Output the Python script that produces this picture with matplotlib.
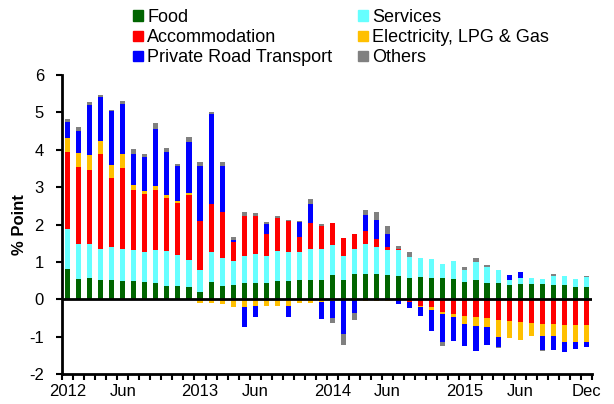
import numpy as np
import matplotlib.pyplot as plt
from matplotlib.patches import Patch

plt.rcParams['font.family'] = ['Liberation Sans', 'DejaVu Sans']
plt.rcParams['axes.unicode_minus'] = False

# monthly contributions, Jan 2012 .. Dec 2015 (% point)
food = [0.81, 0.55, 0.57, 0.52, 0.53, 0.49, 0.49, 0.46, 0.44, 0.36, 0.35, 0.32,
        0.21, 0.47, 0.36, 0.38, 0.43, 0.43, 0.44, 0.49, 0.49, 0.52, 0.52, 0.53,
        0.66, 0.52, 0.68, 0.68, 0.68, 0.65, 0.62, 0.58, 0.59, 0.57, 0.57, 0.54,
        0.46, 0.53, 0.44, 0.44, 0.38, 0.41, 0.40, 0.40, 0.38, 0.38, 0.34, 0.33]
services = [1.06, 0.93, 0.91, 0.84, 0.87, 0.85, 0.84, 0.82, 0.88, 0.93, 0.84, 0.73,
            0.59, 0.81, 0.75, 0.64, 0.74, 0.78, 0.73, 0.80, 0.77, 0.74, 0.82, 0.81,
            0.80, 0.64, 0.66, 0.80, 0.72, 0.67, 0.70, 0.56, 0.52, 0.50, 0.39, 0.48,
            0.34, 0.46, 0.43, 0.34, 0.14, 0.17, 0.17, 0.14, 0.24, 0.26, 0.22, 0.27]
accommodation = [2.06, 2.05, 1.99, 2.53, 1.84, 2.17, 1.60, 1.54, 1.61, 1.43, 1.40, 1.75,
                 1.29, 1.26, 1.22, 0.52, 1.07, 1.02, 0.57, 0.90, 0.84, 0.41, 0.71, 0.63,
                 0.58, 0.47, 0.40, 0.35, 0.21, 0.09, 0.04, -0.07, -0.18, -0.20, -0.33, -0.39,
                 -0.45, -0.47, -0.50, -0.55, -0.58, -0.60, -0.64, -0.66, -0.66, -0.69, -0.69, -0.69]
electricity = [0.38, 0.38, 0.40, 0.35, 0.35, 0.37, 0.12, 0.08, 0.11, 0.07, 0.04, 0.05,
               -0.09, -0.10, -0.13, -0.20, -0.20, -0.18, -0.18, -0.18, -0.18, -0.10, -0.09, -0.06,
               -0.03, 0.0, 0.0, -0.05, -0.05, -0.04, 0.0, 0.0, -0.03, -0.07, -0.06, -0.09,
               -0.21, -0.24, -0.23, -0.45, -0.46, -0.48, -0.33, -0.31, -0.31, -0.44, -0.44, -0.45]
transport = [0.44, 0.60, 1.33, 1.16, 1.44, 1.35, 0.83, 0.91, 1.52, 1.16, 0.94, 1.35,
             1.48, 2.41, 1.23, 0.05, -0.53, -0.30, 0.29, 0.0, -0.30, 0.40, 0.51, -0.45,
             -0.46, -0.93, -0.37, 0.42, 0.52, 0.34, -0.13, -0.15, -0.22, -0.58, -0.76, -0.63,
             -0.58, -0.67, -0.48, -0.27, 0.13, 0.15, 0.0, -0.37, -0.39, -0.28, -0.20, -0.13]
others = [0.06, 0.09, 0.07, 0.06, 0.03, 0.07, 0.13, 0.09, 0.15, 0.11, 0.04, 0.15,
          0.10, 0.07, 0.12, 0.08, 0.10, 0.07, 0.03, 0.04, 0.02, 0.02, 0.12, 0.04,
          -0.15, -0.29, -0.18, 0.13, 0.22, 0.22, 0.08, 0.12, 0.0, 0.0, -0.09, 0.0,
          0.06, 0.12, 0.06, -0.03, 0.0, 0.0, 0.0, -0.03, 0.06, 0.0, 0.0, 0.02]

labels = ['Food', 'Services', 'Accommodation', 'Electricity, LPG & Gas',
          'Private Road Transport', 'Others']
colors = ['#006400', '#66FFFF', '#FF0000', '#FFC000', '#0000FF', '#808080']

tick_pos = [0, 5, 12, 17, 24, 29, 36, 41, 47]
tick_labels = ['2012', 'Jun', '2013', 'Jun', '2014', 'Jun', '2015', 'Jun', 'Dec']

fig = plt.figure(figsize=(6.14, 4.04), dpi=100)
ax = fig.add_axes([0.101, 0.0735, 0.863, 0.741])

x = np.arange(len(food))
pos_base = np.zeros(len(x))
neg_base = np.zeros(len(x))
# positives stack up from 0, negatives stack down from 0
for vals, col in zip([food, services, accommodation, electricity, transport, others], colors):
    v = np.array(vals)
    p = np.where(v > 0, v, 0)
    n = np.where(v < 0, v, 0)
    ax.bar(x, p, 0.46, bottom=pos_base, color=col, linewidth=0)
    ax.bar(x, n, 0.46, bottom=neg_base, color=col, linewidth=0)
    pos_base += p
    neg_base += n

ax.axhline(0, color='black', lw=2, zorder=5)

ax.set_xlim(-0.5, 47.5)
ax.set_ylim(-2, 6)
ax.set_yticks(range(-2, 7))
ax.set_xticks(tick_pos)
ax.set_xticklabels(tick_labels)
ax.set_xticks(np.arange(-0.5, 48, 1), minor=True)
ax.tick_params(axis='x', which='major', length=0, pad=7, labelsize=12)
ax.tick_params(axis='x', which='minor', length=4, width=1.5, direction='out')
ax.tick_params(axis='y', length=4, width=1.5, direction='out', labelsize=12, pad=9)

for s in ['top', 'right']:
    ax.spines[s].set_visible(False)
for s in ['left', 'bottom']:
    ax.spines[s].set_linewidth(2)

ax.set_ylabel('% Point', fontsize=12, fontweight='bold')
ax.yaxis.set_label_coords(-0.066, 0.5)

order = [0, 2, 4, 1, 3, 5]
handles = [Patch(color=colors[i]) for i in order]
fig.legend(handles, [labels[i] for i in order], ncol=2, loc='upper left',
           bbox_to_anchor=(0.216, 0.978), frameon=False, fontsize=13,
           handlelength=0.55, handleheight=0.5, handletextpad=0.25,
           labelspacing=0.18, columnspacing=1.42, borderaxespad=0, borderpad=0)

fig.savefig('out.png', dpi=100)
